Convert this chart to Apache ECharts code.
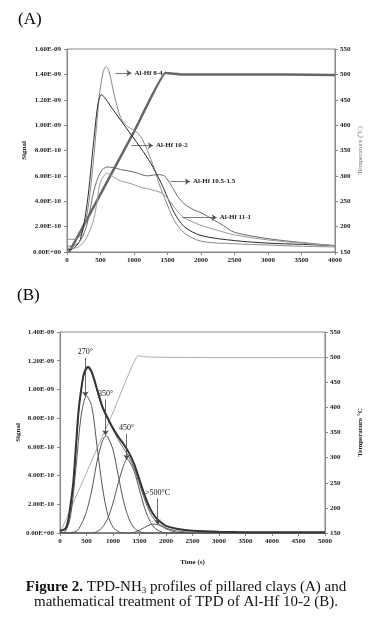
<!DOCTYPE html>
<html>
<head>
<meta charset="utf-8">
<script src="https://cdn.jsdelivr.net/npm/echarts@6/dist/echarts.min.js"></script>
<style>
html, body { margin: 0; padding: 0; background: #fff; }
#chart { width: 372px; height: 628px; }
</style>
</head>
<body>
<div id="chart"></div>
<script>
// ---- panel A : TPD-NH3 of the pillared clays ----
const alHf84 = [[0,1.0e-10],[100,1.0e-10],[200,1.3e-10],[300,3.0e-10],[400,7.5e-10],[480,1.22e-9],[540,1.42e-9],[585,1.46e-9],[630,1.42e-9],[700,1.25e-9],[800,1.06e-9],[900,0.99e-9],[1000,0.96e-9],[1100,0.91e-9],[1200,0.80e-9],[1300,0.66e-9],[1400,0.50e-9],[1500,0.37e-9],[1600,0.25e-9],[1750,0.15e-9],[2000,0.085e-9],[2500,0.065e-9],[3000,0.055e-9],[3500,0.045e-9],[4000,0.04e-9]];
const alHf102 = [[0,0.2e-10],[100,0.3e-10],[200,1.0e-10],[300,3.8e-10],[400,8.8e-10],[460,1.16e-9],[512,1.24e-9],[560,1.22e-9],[650,1.15e-9],[800,1.04e-9],[950,0.93e-9],[1100,0.82e-9],[1250,0.70e-9],[1400,0.55e-9],[1500,0.43e-9],[1600,0.31e-9],[1750,0.2e-9],[2000,0.13e-9],[2500,0.09e-9],[3000,0.07e-9],[3500,0.06e-9],[4000,0.05e-9]];
const alHf105 = [[0,0.45e-10],[100,0.5e-10],[200,0.9e-10],[300,2.2e-10],[400,4.8e-10],[500,6.3e-10],[600,6.7e-10],[700,6.65e-10],[800,6.5e-10],[1000,6.3e-10],[1200,6.0e-10],[1350,6.1e-10],[1450,6.0e-10],[1550,5.3e-10],[1650,4.4e-10],[1750,3.8e-10],[1900,3.3e-10],[2000,3.1e-10],[2200,2.5e-10],[2330,2.1e-10],[2500,1.55e-10],[3000,1.05e-10],[3500,0.75e-10],[4000,0.5e-10]];
const alHf111 = [[0,0.3e-10],[100,0.3e-10],[200,0.5e-10],[300,1.2e-10],[400,2.6e-10],[450,4.0e-10],[500,5.5e-10],[600,6.2e-10],[700,5.9e-10],[800,5.6e-10],[950,5.4e-10],[1100,5.1e-10],[1200,5.0e-10],[1300,4.85e-10],[1430,4.6e-10],[1550,3.9e-10],[1650,3.2e-10],[1750,2.7e-10],[2000,2.1e-10],[2250,1.7e-10],[2500,1.35e-10],[3000,0.95e-10],[3500,0.7e-10],[4000,0.5e-10]];
const tempA = [[30,150],[200,190],[500,264],[1000,387],[1470,503],[1520,502],[1700,500],[2500,500],[4000,499]];

// ---- panel B : deconvolution of Al-Hf 10-2 ----
const expB = [[0,0.15e-10],[100,0.3e-10],[150,0.8e-10],[200,2.0e-10],[250,3.5e-10],[300,6.0e-10],[350,8.5e-10],[400,1.0e-9],[450,1.11e-9],[500,1.15e-9],[530,1.156e-9],[600,1.12e-9],[700,1.0e-9],[800,8.8e-10],[900,8.0e-10],[1000,7.3e-10],[1100,6.7e-10],[1200,6.2e-10],[1300,5.6e-10],[1400,4.8e-10],[1500,3.7e-10],[1600,2.6e-10],[1700,1.7e-10],[1800,1.1e-10],[1900,0.75e-10],[2000,0.5e-10],[2200,0.3e-10],[2500,0.15e-10],[3000,0.08e-10],[4000,0.05e-10],[5000,0.05e-10]];
const fitB = [[0,0.1e-10],[100,0.25e-10],[150,0.7e-10],[200,1.8e-10],[250,3.3e-10],[300,5.8e-10],[350,8.3e-10],[400,0.99e-9],[450,1.1e-9],[500,1.14e-9],[530,1.145e-9],[600,1.11e-9],[700,0.99e-9],[800,8.7e-10],[900,7.9e-10],[1000,7.2e-10],[1100,6.5e-10],[1200,5.9e-10],[1300,5.3e-10],[1400,4.5e-10],[1500,3.4e-10],[1600,2.3e-10],[1700,1.4e-10],[1800,0.85e-10],[1900,0.55e-10],[2000,0.35e-10],[2200,0.15e-10],[2500,0.05e-10],[3000,0],[5000,0]];
const peak270 = [[0,0],[100,0.1e-10],[200,1.2e-10],[300,4.5e-10],[400,8.2e-10],[500,9.55e-10],[600,8.8e-10],[700,6.0e-10],[800,3.2e-10],[900,1.3e-10],[1000,0.4e-10],[1100,0.1e-10],[1200,0],[5000,0]];
const peak350 = [[0,0],[300,0.1e-10],[400,0.6e-10],[500,1.5e-10],[600,3.0e-10],[700,5.0e-10],[800,6.4e-10],[860,6.75e-10],[900,6.7e-10],[1000,5.8e-10],[1100,4.0e-10],[1200,2.2e-10],[1300,1.0e-10],[1400,0.35e-10],[1500,0.1e-10],[1600,0],[5000,0]];
const peak450 = [[0,0],[600,0],[700,0.1e-10],[800,0.4e-10],[900,1.0e-10],[1000,2.1e-10],[1100,3.5e-10],[1200,4.7e-10],[1260,5.15e-10],[1300,5.05e-10],[1400,4.3e-10],[1500,3.0e-10],[1600,1.7e-10],[1700,0.8e-10],[1800,0.3e-10],[1900,0.1e-10],[2000,0],[5000,0]];
const peak500 = [[0,0],[1300,0],[1400,0.05e-10],[1500,0.2e-10],[1600,0.4e-10],[1700,0.58e-10],[1780,0.62e-10],[1900,0.5e-10],[2000,0.3e-10],[2100,0.15e-10],[2200,0.05e-10],[2300,0],[5000,0]];
const tempB = [[0,150],[200,198],[500,270],[1000,390],[1470,503],[1520,502],[1700,500],[3000,499],[5000,499]];

// arrows with the sample names (A) and the peak temperatures (B)
const namesA = ['Al-Hf 8-4', 'Al-Hf 10-2', 'Al-Hf 10.5-1.5', 'Al-Hf 11-1'];
const arrowsA = [[723, 961, 1.41e-9], [961, 1283, 8.39e-10], [1546, 1835, 5.55e-10], [1722, 2234, 2.71e-10]];
const namesB = ['270°', '350°', '450°', '>500°C'];
const arrowsB = [[478, 1.22e-9, 9.5e-10], [859, 9.3e-10, 6.8e-10], [1257, 6.9e-10, 5.1e-10], [1840, 2.4e-10, 0.6e-10]];

const FONT = 'Liberation Serif';

function sci(v) {
    let s = Number(v).toExponential(2);
    let parts = s.split('e');
    let ex = parseInt(parts[1], 10);
    let sign = ex < 0 ? '-' : '+';
    let abs = Math.abs(ex);
    return parts[0] + 'E' + sign + (abs < 10 ? '0' + abs : abs);
}

function plain(v) {
    return String(Math.round(v));
}

let tickLab = { fontFamily: FONT, fontSize: 7, fontWeight: 'bold', color: '#222' };

function yLeft(gi, max, name, gap) {
    return {
        gridIndex: gi, type: 'value', min: 0, max: max, interval: 2e-10,
        name: name, nameLocation: 'middle', nameGap: gap, nameMoveOverlap: false,
        nameTextStyle: { fontFamily: FONT, fontSize: 7, fontWeight: 'bold', color: '#222' },
        axisLine: { show: true, lineStyle: { color: '#888' } },
        axisTick: { show: true, length: 3, lineStyle: { color: '#888' } },
        axisLabel: Object.assign({ formatter: sci, margin: 6 }, tickLab),
        splitLine: { show: false }
    };
}

function yRight(gi, name, gap, nameStyle) {
    return {
        gridIndex: gi, type: 'value', position: 'right', min: 150, max: 550, interval: 50,
        name: name, nameLocation: 'middle', nameGap: gap, nameRotate: 90, nameMoveOverlap: false,
        nameTextStyle: nameStyle,
        axisLine: { show: true, lineStyle: { color: '#888' } },
        axisTick: { show: true, length: 3, lineStyle: { color: '#888' } },
        axisLabel: Object.assign({ margin: 5 }, tickLab),
        splitLine: { show: false }
    };
}

function xAxis(gi, max, name) {
    return {
        gridIndex: gi, type: 'value', min: 0, max: max, interval: 500,
        name: name, nameLocation: 'middle', nameGap: 26, nameMoveOverlap: false,
        nameTextStyle: { fontFamily: FONT, fontSize: 7, fontWeight: 'bold', color: '#222' },
        axisLine: { show: true, lineStyle: { color: '#888' } },
        axisTick: { show: true, length: 3, lineStyle: { color: '#888' } },
        axisLabel: Object.assign({ margin: 5, formatter: plain }, tickLab),
        splitLine: { show: false }
    };
}

function line(name, data, xi, yi, color, width) {
    return {
        name: name, type: 'line', data: data, xAxisIndex: xi, yAxisIndex: yi,
        smooth: 0.3, showSymbol: false, symbol: 'none', animation: false,
        lineStyle: { color: color, width: width }
    };
}

function arrowA(i) {
    let a = arrowsA[i];
    return {
        silent: true, animation: false, symbolSize: 5,
        lineStyle: { color: '#555', width: 0.8, type: 'solid' },
        label: { show: true, position: 'end', formatter: namesA[i], distance: 3,
                 fontFamily: FONT, fontSize: 7, fontWeight: 'bold', color: '#222' },
        data: [[{ coord: [a[0], a[2]], symbol: 'none' }, { coord: [a[1], a[2]], symbol: 'arrow' }]]
    };
}

function arrowB(i) {
    let a = arrowsB[i];
    return {
        silent: true, animation: false, symbolSize: 5,
        lineStyle: { color: '#444', width: 0.8, type: 'solid' },
        label: { show: true, position: 'start', formatter: namesB[i], distance: 2,
                 fontFamily: FONT, fontSize: 8, color: '#111' },
        data: [[{ coord: [a[0], a[1]], symbol: 'none' }, { coord: [a[0], a[2]], symbol: 'arrow' }]]
    };
}

let s84 = line('Al-Hf 8-4', alHf84, 0, 0, '#8a8a8a', 1);
s84.markLine = arrowA(0);
let s102 = line('Al-Hf 10-2', alHf102, 0, 0, '#2a2a2a', 1);
s102.markLine = arrowA(1);
let s105 = line('Al-Hf 10.5-1.5', alHf105, 0, 0, '#6a6a6a', 1);
s105.markLine = arrowA(2);
let s111 = line('Al-Hf 11-1', alHf111, 0, 0, '#9a9a9a', 1);
s111.markLine = arrowA(3);
let sTA = line('Temperature A', tempA, 0, 1, '#666', 2.5);
sTA.smooth = 0.1;

let sP1 = line('270', peak270, 1, 2, '#555', 1);
sP1.markLine = arrowB(0);
let sP2 = line('350', peak350, 1, 2, '#555', 1);
sP2.markLine = arrowB(1);
let sP3 = line('450', peak450, 1, 2, '#555', 1);
sP3.markLine = arrowB(2);
let sP4 = line('500', peak500, 1, 2, '#555', 1);
sP4.markLine = arrowB(3);
let sFit = line('fit', fitB, 1, 2, '#666', 1);
let sExp = line('exp', expB, 1, 2, '#333', 2);
let sTB = line('Temperature B', tempB, 1, 3, '#aaa', 1);
sTB.smooth = 0.1;

let myChart = echarts.init(document.getElementById('chart'), null, { renderer: 'canvas' });
let option = {
    backgroundColor: '#fff',
    animation: false,
    grid: [
        { left: 67, top: 49, width: 274, height: 203, show: true, borderColor: '#888', borderWidth: 1 },
        { left: 60, top: 332, width: 272, height: 201, show: true, borderColor: '#888', borderWidth: 1 }
    ],
    xAxis: [xAxis(0, 4000, ''), xAxis(1, 5000, 'Time (s)')],
    yAxis: [
        yLeft(0, 1.6e-9, 'Signal', 39),
        yRight(0, 'Temperature (ºC)', 22, { fontFamily: FONT, fontSize: 7, color: '#777' }),
        yLeft(1, 1.4e-9, 'Signal', 38),
        yRight(1, 'Temperature °C', 32, { fontFamily: FONT, fontSize: 7, fontWeight: 'bold', color: '#222' })
    ],
    series: [sTA, s84, s102, s105, s111, sTB, sP1, sP2, sP3, sP4, sFit, sExp],
    graphic: [
        { type: 'text', left: 18, top: 11, style: { text: '(A)', font: '17px "Liberation Serif"', fill: '#000' } },
        { type: 'text', left: 17, top: 287, style: { text: '(B)', font: '17px "Liberation Serif"', fill: '#000' } },
        {
            type: 'text', left: 'center', top: 580,
            style: {
                text: '{b|Figure 2.} TPD-NH{sub|3} profiles of pillared clays (A) and',
                font: '15px "Liberation Serif"', fill: '#111',
                rich: {
                    b: { fontWeight: 'bold', fontSize: 15, fontFamily: FONT, fill: '#111' },
                    sub: { fontSize: 9, fontFamily: FONT, verticalAlign: 'bottom', padding: [7, 0, 0, 0], fill: '#111' }
                }
            }
        },
        {
            type: 'text', left: 'center', top: 595,
            style: {
                text: 'mathematical treatment of TPD of Al-Hf 10-2 (B).',
                font: '15px "Liberation Serif"', fill: '#111'
            }
        }
    ]
};
myChart.setOption(option);
</script>
</body>
</html>
